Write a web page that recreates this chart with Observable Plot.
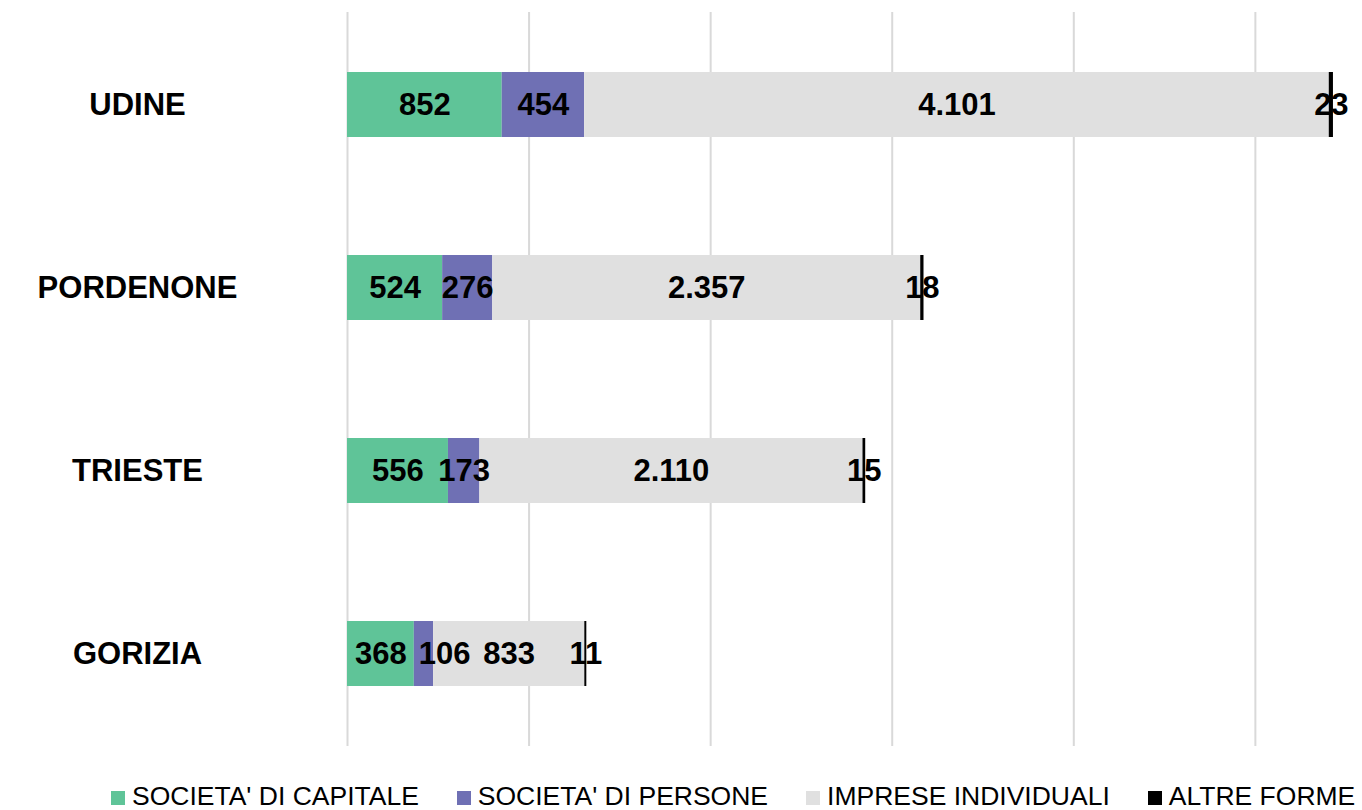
<!DOCTYPE html>
<html>
<head>
<meta charset="utf-8">
<script src="https://cdn.jsdelivr.net/npm/d3@7"></script>
<script src="https://cdn.jsdelivr.net/npm/@observablehq/plot@0.6"></script>
<style>
  html, body { margin: 0; padding: 0; background: #fff; overflow: hidden; }
  body { width: 1362px; height: 810px; position: relative; font-family: "Liberation Sans", Arial, sans-serif; }
  #legend { position: absolute; top: 783px; left: 111px; display: flex; white-space: nowrap; font-size: 26.5px; line-height: 26px; color: #000; }
  .item { margin-right: 38px; }
  .sw { display: inline-block; width: 14px; height: 14px; margin-right: 7px; vertical-align: baseline; }
</style>
</head>
<body>
<div id="chart"></div>
<div id="legend"></div>
<script>
const regions = ["UDINE", "PORDENONE", "TRIESTE", "GORIZIA"];
const types = ["SOCIETA' DI CAPITALE", "SOCIETA' DI PERSONE", "IMPRESE INDIVIDUALI", "ALTRE FORME"];
const colors = ["#5fc498", "#6f70b4", "#e0e0e0", "#000000"];
const capitale = [852, 524, 556, 368];
const persone = [454, 276, 173, 106];
const individuali = [4101, 2357, 2110, 833];
const altre = [23, 18, 15, 11];
const gridTicks = [0, 1000, 2000, 3000, 4000, 5000];

const series = [capitale, persone, individuali, altre];
const fmt = v => d3.format(",")(v).replace(/,/g, ".");

const xDomain = [0, 5590];
const xRange = [347, 1362];
const xs = Plot.scale({x: {domain: xDomain, range: xRange}});
const pxPerUnit = (xRange[1] - xRange[0]) / (xDomain[1] - xDomain[0]);

const canvas = document.createElement("canvas");
const ctx = canvas.getContext("2d");
ctx.font = "bold 31px 'Liberation Sans', Arial, sans-serif";

const segments = [];
const labels = [];
regions.forEach((r, i) => {
  let acc = 0;
  let prevEnd = -Infinity;
  series.forEach((s, k) => {
    const v = s[i];
    const x1 = acc, x2 = acc + v;
    segments.push({region: r, type: types[k], x1, x2});
    acc = x2;
    const text = fmt(v);
    const w = ctx.measureText(text).width;
    let cx = xs.apply((x1 + x2) / 2);
    if (cx - w / 2 < prevEnd + 12) cx = prevEnd + 12 + w / 2;
    prevEnd = cx + w / 2;
    labels.push({region: r, text, x: xDomain[0] + (cx - xRange[0]) / pxPerUnit});
  });
});

const chart = Plot.plot({
  width: 1362,
  height: 770,
  marginLeft: 347,
  marginRight: 0,
  marginTop: 12,
  marginBottom: 24,
  style: {fontFamily: "'Liberation Sans', Arial, sans-serif", color: "#000", background: "#fff"},
  x: {domain: xDomain, axis: null},
  y: {domain: regions, paddingInner: 0.645, paddingOuter: 0.3225, axis: null},
  color: {domain: types, range: colors},
  marks: [
    Plot.ruleX(gridTicks, {x: d => d, stroke: "#d9d9d9", strokeWidth: 2}),
    Plot.barX(segments, {x1: "x1", x2: "x2", y: "region", fill: "type"}),
    Plot.text(regions, {y: d => d, text: d => d, frameAnchor: "left", dx: -210, textAnchor: "middle", fontSize: 31, fontWeight: "bold", fill: "#000"}),
    Plot.text(labels, {x: "x", y: "region", text: "text", fontSize: 31, fontWeight: "bold", fill: "#000"})
  ]
});
document.getElementById("chart").appendChild(chart);

const legend = document.getElementById("legend");
types.forEach((t, k) => {
  const it = document.createElement("span");
  it.className = "item";
  if (k === types.length - 1) it.style.marginRight = "0";
  const sw = document.createElement("span");
  sw.className = "sw";
  sw.style.background = colors[k];
  it.appendChild(sw);
  it.appendChild(document.createTextNode(t));
  legend.appendChild(it);
});
</script>
</body>
</html>
